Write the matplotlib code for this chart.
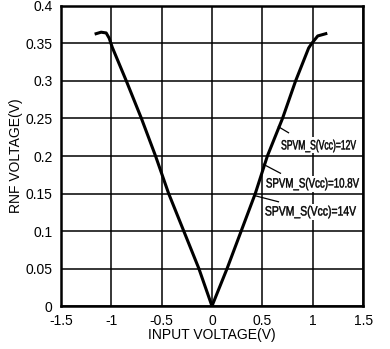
import matplotlib.pyplot as plt
from matplotlib.textpath import TextPath
from matplotlib.patches import PathPatch, Rectangle
from matplotlib.font_manager import FontProperties
from matplotlib.transforms import Affine2D

# curve (input voltage -> RNF voltage)
input_v = [-1.15, -1.10, -1.05, -1.02, -0.99, -0.85, -0.70, -0.56, -0.43, -0.28,
           -0.13, 0.0, 0.15, 0.29, 0.43, 0.55, 0.70, 0.83, 0.96, 0.99, 1.05, 1.13]
rnf_v = [0.363, 0.365, 0.364, 0.357, 0.345, 0.300, 0.250, 0.200, 0.150, 0.100,
         0.050, 0.0, 0.050, 0.100, 0.150, 0.200, 0.250, 0.300, 0.344, 0.350, 0.360, 0.363]

labels = ['SPVM_S(Vcc)=12V', 'SPVM_S(Vcc)=10.8V', 'SPVM_S(Vcc)=14V']
label_xy = [(0.69, 0.2087), (0.54, 0.158), (0.53, 0.1207)]   # left, baseline
label_width = [0.74, 0.92, 0.90]                              # in x data units
leader_start = [(0.66, 0.239), (0.51, 0.189), (0.43, 0.147)]
leader_end = [(0.76, 0.231), (0.68, 0.177), (0.66, 0.139)]

x_ticks = [-1.5, -1, -0.5, 0, 0.5, 1, 1.5]
y_ticks = [0, 0.05, 0.1, 0.15, 0.2, 0.25, 0.3, 0.35, 0.4]

plt.rcParams['font.family'] = ['Liberation Sans', 'DejaVu Sans']

fig = plt.figure(figsize=(3.9, 3.49), dpi=100)
ax = fig.add_axes([0.156, 0.123, 0.775, 0.860])

ax.plot(input_v, rnf_v, color='black', linewidth=2.2, zorder=3)

ax.set_xlim(-1.5, 1.5)
ax.set_ylim(0, 0.4)
ax.set_xticks(x_ticks)
ax.set_xticklabels(['-1.5', '-1', '-0.5', '0', '0.5', '1', '1.5'])
ax.set_yticks(y_ticks)
ax.set_yticklabels(['0', '0.05', '0.1', '0.15', '0.2', '0.25', '0.3', '0.35', '0.4'])
ax.tick_params(length=0, labelsize=10, pad=6)
ax.grid(color='black', linewidth=1.1)
ax.set_axisbelow(True)
for s in ax.spines.values():
    s.set_linewidth(1.8)

for (sx, sy), (ex, ey) in zip(leader_start, leader_end):
    ax.plot([sx, ex], [sy, ey], color='black', linewidth=0.9, zorder=3)

# condensed label text: squeeze a normal font horizontally
fp = FontProperties(family='Liberation Sans')
for text, (tx, ty), w in zip(labels, label_xy, label_width):
    path = TextPath((0, 0), text, size=13.5, prop=fp)
    ext = path.get_extents()
    x0, y0 = ax.transData.transform((tx, ty))
    x1, _ = ax.transData.transform((tx + w, ty))
    sx = (x1 - x0) / ext.width
    tr = Affine2D().translate(-ext.x0, 0).scale(sx, 1).translate(x0, y0)
    box = Rectangle((x0 - 2, y0 - 4), x1 - x0 + 4, 16, transform=Affine2D(),
                    facecolor='white', edgecolor='none', zorder=4)
    fig.add_artist(box)
    fig.add_artist(PathPatch(path, transform=tr, facecolor='black',
                             edgecolor='black', linewidth=0.3, zorder=5))

ax.set_xlabel('INPUT VOLTAGE(V)', fontsize=10, labelpad=0)
ax.set_ylabel('RNF VOLTAGE(V)', fontsize=10, labelpad=2)

fig.savefig('out.png', dpi=100)
